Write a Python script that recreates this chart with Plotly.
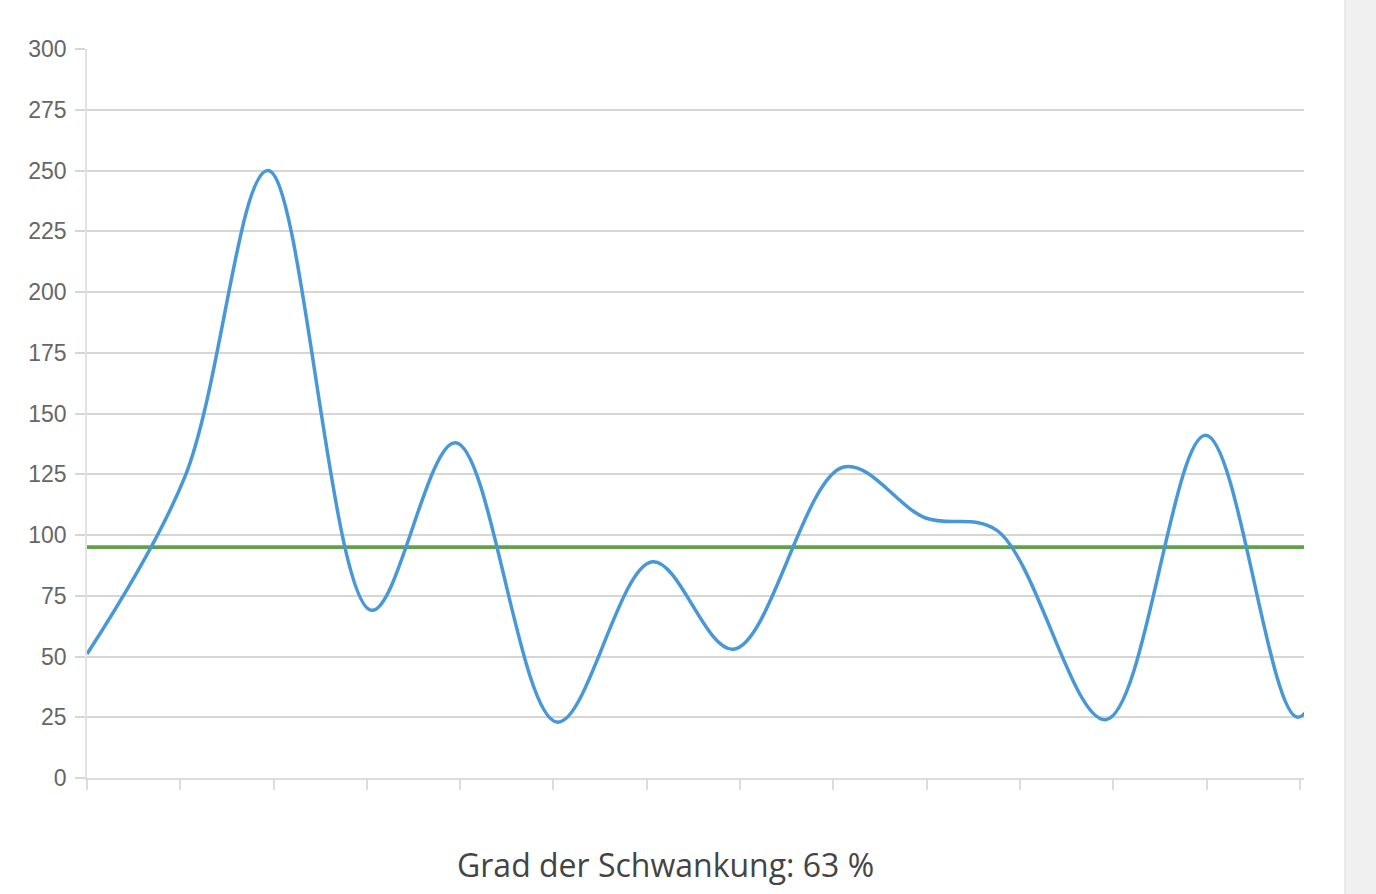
import plotly.graph_objects as go

# Data (x in tick-interval units; ticks 0..13 are unlabeled)
x_positions = [0.0, 1.05, 1.94, 3.05, 3.95, 5.04, 6.06, 6.93, 8.11, 8.99, 9.75, 10.92, 11.99, 12.98, 13.9]
values = [51, 124, 250, 69, 138, 23, 89, 53, 128, 107, 102, 24, 141, 25, 170]
average = 95
tick_positions = list(range(14))
y_ticks = list(range(0, 301, 25))
caption = "Grad der Schwankung: 63 %"

W, H = 1376, 894
L, R, T, B = 87, 72, 49, 116
plot_w = W - L - R

fig = go.Figure()

fig.add_trace(go.Scatter(
    x=x_positions, y=values, mode="lines",
    line=dict(color="#4898d8", width=3.5, shape="spline", smoothing=1.0),
    hoverinfo="skip", showlegend=False,
))

fig.add_shape(type="line", xref="x domain", yref="y", x0=0, x1=1, y0=average, y1=average,
              line=dict(color="#5fa24a", width=3.8), layer="below")

# grey side strip at the right edge of the page
fig.add_shape(type="rect", xref="paper", yref="paper",
              x0=(1345 - L) / plot_w, x1=(W - L + 5) / plot_w, y0=-1, y1=2,
              fillcolor="#f0f0f0", line=dict(color="#e2e2e2", width=1.5), layer="below")

fig.add_annotation(text=caption, xref="paper", yref="paper",
                   x=(665 - L) / plot_w, y=-(864 - (H - B)) / (H - T - B),
                   xanchor="center", yanchor="middle", showarrow=False,
                   font=dict(family="Open Sans", size=32, color="#444444"))

fig.update_xaxes(
    range=[0, 13.045], tickvals=tick_positions, showticklabels=False,
    ticks="outside", ticklen=10, tickwidth=1.5, tickcolor="#dcdcdc",
    showgrid=False, zeroline=False, showline=True, linecolor="#dcdcdc", linewidth=1.5,
    fixedrange=True,
)
fig.update_yaxes(
    range=[0, 300], tickvals=y_ticks, ticks="outside", ticklen=10, tickwidth=1.5,
    tickcolor="#d6d6d6", showgrid=True, gridcolor="#d6d6d6", gridwidth=1.5,
    zeroline=False, showline=True, linecolor="#e2e2e2", linewidth=1.5,
    tickfont=dict(family="Liberation Sans", size=23, color="#666666"),
    ticklabelstandoff=4, fixedrange=True,
)

fig.update_layout(
    width=W, height=H, margin=dict(l=L, r=R, t=T, b=B),
    plot_bgcolor="white", paper_bgcolor="white",
    showlegend=False,
)

fig.write_html("out.html", config={"displayModeBar": False},
               post_script="document.body.style.margin='0px';document.body.style.overflow='hidden';")
